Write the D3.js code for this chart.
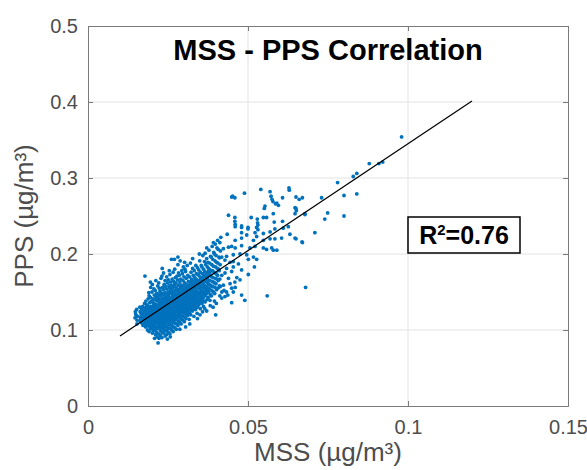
<!DOCTYPE html>
<html>
<head>
<meta charset="utf-8">
<script src="https://cdn.jsdelivr.net/npm/d3@7"></script>
<style>
  body { margin: 0; background: #fff; }
  svg text { font-family: "Liberation Sans", Arial, sans-serif; }
</style>
</head>
<body>
<div id="chart"></div>
<script>
// axis ticks
var xTicks = [0, 0.05, 0.1, 0.15];
var yTicks = [0, 0.1, 0.2, 0.3, 0.4, 0.5];
var xTickLabels = ["0", "0.05", "0.1", "0.15"];
var yTickLabels = ["0", "0.1", "0.2", "0.3", "0.4", "0.5"];

// linear fit shown on the plot
var fitSlope = 2.81;
var fitIntercept = 0.064;
var fitRange = [0.01, 0.12];
var rSquared = "0.76";

// [MSS, PPS] samples
var samples = [
  [0.0147,0.116],[0.0149,0.121],[0.0151,0.119],[0.0148,0.124],[0.0153,0.113],[0.0152,0.127],[0.0155,0.118],
  [0.0162,0.112],[0.0164,0.117],[0.0166,0.121],[0.0163,0.124],[0.0167,0.128],[0.0165,0.115],[0.0168,0.110],
  [0.0169,0.109],[0.0171,0.114],[0.0172,0.118],[0.0170,0.122],[0.0173,0.126],[0.0171,0.131],[0.0174,0.120],[0.0172,0.106],
  [0.0176,0.108],[0.0175,0.113],[0.0177,0.117],[0.0178,0.121],[0.0176,0.125],[0.0179,0.129],[0.0177,0.135],[0.0178,0.111],[0.0175,0.119],
  [0.0180,0.104],[0.0182,0.110],[0.0181,0.115],[0.0183,0.119],[0.0180,0.123],[0.0182,0.127],[0.0184,0.132],[0.0181,0.138],[0.0178,0.171],[0.0183,0.112],[0.0184,0.121],
  [0.0186,0.100],[0.0185,0.107],[0.0187,0.112],[0.0188,0.116],[0.0186,0.120],[0.0189,0.124],[0.0187,0.128],[0.0185,0.133],[0.0188,0.141],[0.0189,0.118],[0.0186,0.126],
  [0.0191,0.098],[0.0190,0.105],[0.0192,0.109],[0.0193,0.114],[0.0191,0.118],[0.0194,0.122],[0.0192,0.126],[0.0190,0.130],[0.0193,0.136],[0.0191,0.145],[0.0194,0.111],[0.0192,0.120],[0.0190,0.149],
  [0.0196,0.102],[0.0197,0.107],[0.0195,0.111],[0.0198,0.115],[0.0196,0.119],[0.0199,0.123],[0.0197,0.127],[0.0196,0.131],[0.0198,0.138],[0.0195,0.143],[0.0199,0.113],[0.0197,0.125],[0.0196,0.156],
  [0.0201,0.096],[0.0203,0.100],[0.0200,0.104],[0.0202,0.108],[0.0204,0.112],[0.0201,0.116],[0.0203,0.120],[0.0200,0.124],[0.0202,0.128],[0.0204,0.132],[0.0201,0.137],[0.0203,0.141],[0.0200,0.150],[0.0202,0.118],[0.0204,0.126],[0.0201,0.160],
  [0.0206,0.099],[0.0207,0.103],[0.0205,0.107],[0.0208,0.111],[0.0206,0.115],[0.0209,0.119],[0.0207,0.123],[0.0205,0.127],[0.0208,0.131],[0.0206,0.135],[0.0209,0.140],[0.0207,0.146],[0.0205,0.121],[0.0208,0.129],[0.0206,0.154],
  [0.0211,0.094],[0.0212,0.101],[0.0210,0.106],[0.0213,0.110],[0.0211,0.114],[0.0214,0.118],[0.0212,0.122],[0.0210,0.126],[0.0213,0.130],[0.0211,0.134],[0.0214,0.139],[0.0212,0.144],[0.0210,0.152],[0.0213,0.116],[0.0211,0.124],[0.0212,0.165],
  [0.0216,0.091],[0.0215,0.097],[0.0217,0.104],[0.0218,0.109],[0.0216,0.113],[0.0219,0.117],[0.0217,0.121],[0.0215,0.125],[0.0218,0.129],[0.0216,0.133],[0.0219,0.138],[0.0217,0.143],[0.0215,0.148],[0.0218,0.158],[0.0216,0.119],[0.0219,0.127],
  [0.0219,0.083],[0.0222,0.089],[0.0221,0.095],[0.0220,0.102],[0.0223,0.107],[0.0221,0.111],[0.0224,0.115],[0.0222,0.119],[0.0220,0.123],[0.0223,0.127],[0.0221,0.131],[0.0224,0.136],[0.0222,0.141],[0.0220,0.147],[0.0223,0.155],[0.0221,0.162],[0.0224,0.121],[0.0222,0.129],
  [0.0226,0.093],[0.0227,0.099],[0.0225,0.105],[0.0228,0.110],[0.0226,0.114],[0.0229,0.118],[0.0227,0.122],[0.0225,0.126],[0.0228,0.130],[0.0226,0.134],[0.0229,0.139],[0.0227,0.145],[0.0225,0.151],[0.0228,0.168],[0.0226,0.124],[0.0229,0.132],
  [0.0231,0.090],[0.0232,0.097],[0.0230,0.103],[0.0233,0.108],[0.0231,0.112],[0.0234,0.116],[0.0232,0.120],[0.0230,0.124],[0.0233,0.128],[0.0231,0.132],[0.0234,0.137],[0.0232,0.142],[0.0230,0.148],[0.0233,0.156],[0.0231,0.171],[0.0234,0.126],[0.0232,0.134],
  [0.0236,0.096],[0.0237,0.101],[0.0235,0.106],[0.0238,0.110],[0.0236,0.114],[0.0239,0.118],[0.0237,0.122],[0.0235,0.126],[0.0238,0.130],[0.0236,0.135],[0.0239,0.140],[0.0237,0.146],[0.0235,0.153],[0.0238,0.160],[0.0236,0.175],[0.0239,0.128],[0.0237,0.137],
  [0.0241,0.092],[0.0242,0.099],[0.0240,0.104],[0.0243,0.109],[0.0241,0.113],[0.0244,0.117],[0.0242,0.121],[0.0240,0.125],[0.0243,0.129],[0.0241,0.133],[0.0244,0.138],[0.0242,0.143],[0.0240,0.149],[0.0243,0.157],[0.0241,0.165],[0.0244,0.131],[0.0242,0.140],
  [0.0246,0.094],[0.0248,0.088],[0.0247,0.100],[0.0245,0.105],[0.0248,0.111],[0.0246,0.115],[0.0249,0.119],[0.0247,0.123],[0.0245,0.127],[0.0248,0.131],[0.0246,0.136],[0.0249,0.141],[0.0247,0.147],[0.0245,0.154],[0.0248,0.162],[0.0246,0.170],[0.0249,0.133],[0.0247,0.144],
  [0.0251,0.097],[0.0250,0.103],[0.0253,0.108],[0.0251,0.113],[0.0254,0.117],[0.0252,0.121],[0.0250,0.125],[0.0253,0.129],[0.0251,0.134],[0.0254,0.139],[0.0252,0.144],[0.0250,0.150],[0.0253,0.158],[0.0251,0.166],[0.0254,0.178],[0.0252,0.136],[0.0250,0.146],
  [0.0256,0.095],[0.0257,0.102],[0.0255,0.107],[0.0258,0.112],[0.0256,0.116],[0.0259,0.120],[0.0257,0.124],[0.0255,0.128],[0.0258,0.132],[0.0256,0.137],[0.0259,0.142],[0.0257,0.148],[0.0255,0.155],[0.0258,0.163],[0.0256,0.173],[0.0259,0.139],[0.0257,0.151],
  [0.0261,0.100],[0.0262,0.106],[0.0260,0.111],[0.0263,0.115],[0.0261,0.119],[0.0264,0.123],[0.0262,0.127],[0.0260,0.131],[0.0263,0.135],[0.0261,0.140],[0.0264,0.145],[0.0262,0.151],[0.0260,0.159],[0.0263,0.167],[0.0261,0.193],[0.0264,0.142],[0.0262,0.154],
  [0.0266,0.098],[0.0267,0.104],[0.0265,0.110],[0.0268,0.114],[0.0266,0.118],[0.0269,0.122],[0.0267,0.126],[0.0265,0.130],[0.0268,0.134],[0.0266,0.138],[0.0269,0.143],[0.0267,0.149],[0.0265,0.156],[0.0268,0.164],[0.0266,0.176],[0.0270,0.193],[0.0269,0.145],
  [0.0271,0.103],[0.0272,0.109],[0.0270,0.113],[0.0273,0.117],[0.0271,0.121],[0.0274,0.125],[0.0272,0.129],[0.0270,0.133],[0.0273,0.137],[0.0271,0.141],[0.0274,0.146],[0.0272,0.152],[0.0270,0.160],[0.0273,0.169],[0.0271,0.180],[0.0274,0.148],[0.0272,0.157],
  [0.0276,0.101],[0.0277,0.108],[0.0275,0.114],[0.0278,0.119],[0.0276,0.124],[0.0279,0.128],[0.0277,0.132],[0.0275,0.136],[0.0278,0.140],[0.0276,0.144],[0.0279,0.149],[0.0277,0.155],[0.0275,0.162],[0.0278,0.171],[0.0276,0.151],
  [0.0281,0.106],[0.0282,0.112],[0.0280,0.117],[0.0283,0.122],[0.0281,0.126],[0.0284,0.130],[0.0282,0.134],[0.0280,0.138],[0.0283,0.142],[0.0281,0.147],[0.0284,0.153],[0.0282,0.159],[0.0280,0.166],[0.0283,0.175],[0.0281,0.186],[0.0284,0.150],
  [0.0286,0.110],[0.0287,0.116],[0.0285,0.121],[0.0288,0.125],[0.0286,0.129],[0.0289,0.133],[0.0287,0.137],[0.0285,0.141],[0.0288,0.145],[0.0286,0.150],[0.0289,0.156],[0.0287,0.163],[0.0285,0.172],[0.0288,0.191],[0.0286,0.139],
  [0.0291,0.108],[0.0292,0.114],[0.0290,0.119],[0.0293,0.124],[0.0291,0.128],[0.0294,0.132],[0.0292,0.136],[0.0290,0.140],[0.0293,0.144],[0.0291,0.148],[0.0294,0.153],[0.0292,0.159],[0.0290,0.167],[0.0293,0.178],[0.0291,0.146],
  [0.0296,0.113],[0.0297,0.118],[0.0295,0.123],[0.0298,0.127],[0.0296,0.131],[0.0299,0.135],[0.0297,0.139],[0.0295,0.143],[0.0298,0.147],[0.0296,0.152],[0.0299,0.158],[0.0297,0.165],[0.0295,0.174],[0.0298,0.183],[0.0296,0.155],
  [0.0301,0.111],[0.0302,0.117],[0.0300,0.122],[0.0303,0.126],[0.0301,0.130],[0.0304,0.134],[0.0302,0.138],[0.0300,0.142],[0.0303,0.146],[0.0301,0.151],[0.0304,0.156],[0.0302,0.162],[0.0300,0.170],[0.0303,0.180],[0.0301,0.148],
  [0.0306,0.115],[0.0307,0.121],[0.0305,0.125],[0.0308,0.129],[0.0306,0.133],[0.0309,0.137],[0.0307,0.141],[0.0305,0.145],[0.0308,0.149],[0.0306,0.154],[0.0309,0.160],[0.0307,0.168],[0.0305,0.177],[0.0308,0.151],
  [0.0311,0.119],[0.0312,0.124],[0.0310,0.128],[0.0313,0.132],[0.0311,0.136],[0.0314,0.140],[0.0312,0.144],[0.0310,0.148],[0.0313,0.153],[0.0311,0.158],[0.0314,0.164],[0.0312,0.172],[0.0310,0.185],[0.0313,0.155],
  [0.0316,0.114],[0.0317,0.122],[0.0315,0.127],[0.0318,0.131],[0.0316,0.135],[0.0319,0.139],[0.0317,0.143],[0.0315,0.147],[0.0318,0.152],[0.0316,0.157],[0.0319,0.163],[0.0317,0.170],[0.0315,0.158],
  [0.0321,0.120],[0.0322,0.126],[0.0320,0.130],[0.0323,0.134],[0.0321,0.138],[0.0324,0.142],[0.0322,0.146],[0.0320,0.150],[0.0323,0.155],[0.0321,0.161],[0.0324,0.167],[0.0322,0.176],[0.0320,0.188],[0.0323,0.153],
  [0.0326,0.125],[0.0327,0.129],[0.0325,0.133],[0.0328,0.137],[0.0326,0.141],[0.0329,0.145],[0.0327,0.149],[0.0325,0.154],[0.0328,0.159],[0.0326,0.165],[0.0329,0.172],[0.0327,0.181],[0.0325,0.157],
  [0.0331,0.118],[0.0332,0.128],[0.0330,0.132],[0.0333,0.136],[0.0331,0.140],[0.0334,0.144],[0.0332,0.148],[0.0330,0.152],[0.0333,0.157],[0.0331,0.163],[0.0334,0.169],[0.0332,0.178],[0.0330,0.160],
  [0.0336,0.127],[0.0337,0.131],[0.0335,0.135],[0.0338,0.139],[0.0336,0.143],[0.0339,0.147],[0.0337,0.151],[0.0335,0.156],[0.0338,0.161],[0.0336,0.167],[0.0339,0.174],[0.0337,0.185],[0.0335,0.163],
  [0.0341,0.122],[0.0342,0.130],[0.0340,0.134],[0.0343,0.138],[0.0341,0.142],[0.0344,0.146],[0.0342,0.150],[0.0340,0.155],[0.0343,0.160],[0.0341,0.166],[0.0344,0.173],[0.0342,0.182],[0.0340,0.165],
  [0.0346,0.133],[0.0347,0.137],[0.0345,0.141],[0.0348,0.145],[0.0346,0.149],[0.0349,0.154],[0.0347,0.158],[0.0345,0.164],[0.0348,0.171],[0.0346,0.179],[0.0349,0.191],[0.0347,0.160],
  [0.0351,0.128],[0.0352,0.136],[0.0350,0.140],[0.0353,0.144],[0.0351,0.148],[0.0354,0.152],[0.0352,0.157],[0.0350,0.162],[0.0353,0.168],[0.0351,0.176],[0.0354,0.185],[0.0352,0.166],[0.0350,0.120],
  [0.0356,0.135],[0.0357,0.139],[0.0355,0.143],[0.0358,0.147],[0.0356,0.151],[0.0359,0.156],[0.0357,0.161],[0.0355,0.167],[0.0358,0.174],[0.0356,0.183],[0.0359,0.198],[0.0357,0.169],
  [0.0361,0.131],[0.0362,0.138],[0.0360,0.142],[0.0363,0.146],[0.0361,0.150],[0.0364,0.155],[0.0362,0.160],[0.0360,0.166],[0.0363,0.172],[0.0361,0.180],[0.0364,0.190],[0.0362,0.163],
  [0.0366,0.137],[0.0367,0.145],[0.0365,0.149],[0.0368,0.153],[0.0366,0.158],[0.0369,0.164],[0.0367,0.170],[0.0365,0.177],[0.0368,0.186],[0.0366,0.201],
  [0.0371,0.125],[0.0372,0.140],[0.0370,0.148],[0.0373,0.152],[0.0371,0.157],[0.0374,0.162],[0.0372,0.168],[0.0370,0.175],[0.0373,0.183],[0.0371,0.194],[0.0374,0.171],
  [0.0376,0.143],[0.0377,0.150],[0.0375,0.155],[0.0378,0.160],[0.0376,0.166],[0.0379,0.173],[0.0377,0.181],[0.0375,0.189],[0.0378,0.205],[0.0376,0.177],
  [0.0381,0.139],[0.0382,0.147],[0.0380,0.154],[0.0383,0.159],[0.0381,0.165],[0.0384,0.171],[0.0382,0.179],[0.0380,0.188],[0.0383,0.197],[0.0381,0.175],
  [0.0386,0.145],[0.0387,0.152],[0.0385,0.158],[0.0388,0.164],[0.0386,0.170],[0.0389,0.178],[0.0387,0.186],[0.0385,0.196],[0.0388,0.210],
  [0.0391,0.130],[0.0392,0.150],[0.0390,0.157],[0.0393,0.163],[0.0391,0.169],[0.0394,0.176],[0.0392,0.184],[0.0390,0.193],[0.0393,0.202],
  [0.0396,0.148],[0.0397,0.156],[0.0395,0.162],[0.0398,0.168],[0.0396,0.175],[0.0399,0.183],[0.0397,0.191],[0.0395,0.200],[0.0398,0.213],
  [0.0399,0.120],[0.0401,0.135],[0.0402,0.153],[0.0400,0.161],[0.0403,0.167],[0.0401,0.174],[0.0404,0.181],[0.0402,0.189],[0.0400,0.198],[0.0403,0.208],
  [0.0406,0.155],[0.0407,0.165],[0.0405,0.172],[0.0408,0.180],[0.0406,0.188],[0.0409,0.196],[0.0407,0.206],[0.0405,0.218],
  [0.0411,0.158],[0.0412,0.167],[0.0410,0.178],[0.0413,0.186],[0.0411,0.195],[0.0414,0.204],[0.0412,0.215],
  [0.0418,0.196],[0.0428,0.192],[0.0444,0.189],[0.0454,0.190],[0.0470,0.187],[0.0520,0.183],[0.0433,0.181],[0.0454,0.183],
  [0.0449,0.177],[0.0480,0.179],[0.0428,0.175],[0.0418,0.172],[0.0501,0.173],[0.0439,0.168],[0.0465,0.169],[0.0475,0.166],
  [0.0444,0.161],[0.0459,0.163],[0.0423,0.159],[0.0413,0.157],[0.0433,0.150],[0.0449,0.155],[0.0460,0.156],[0.0454,0.150],
  [0.0418,0.150],[0.0480,0.146],[0.0490,0.139],[0.0449,0.136],[0.0428,0.144],[0.0418,0.142],[0.0560,0.145],[0.0680,0.156],
  [0.0423,0.207],[0.0439,0.209],[0.0449,0.210],[0.0460,0.208],[0.0480,0.211],[0.0506,0.208],[0.0522,0.210],[0.0548,0.208],
  [0.0558,0.206],[0.0574,0.208],[0.0579,0.205],[0.0590,0.205],
  [0.0433,0.197],[0.0454,0.199],[0.0475,0.200],[0.0496,0.199],[0.0517,0.196],[0.0527,0.193],[0.0501,0.193],
  [0.0460,0.218],[0.0480,0.221],[0.0517,0.218],[0.0548,0.218],[0.0569,0.220],[0.0584,0.220],[0.0605,0.221],
  [0.0460,0.236],[0.0480,0.235],[0.0500,0.233],[0.0527,0.235],[0.0531,0.232],[0.0480,0.228],[0.0496,0.225],[0.0522,0.228],
  [0.0527,0.223],[0.0548,0.227],[0.0569,0.229],[0.0584,0.233],[0.0610,0.234],[0.0626,0.236],[0.0631,0.226],[0.0650,0.220],[0.0669,0.216],
  [0.0449,0.275],[0.0459,0.274],[0.0452,0.276],[0.0489,0.280],[0.0540,0.285],[0.0569,0.282],[0.0575,0.272],[0.0572,0.276],
  [0.0578,0.269],[0.0628,0.287],[0.0629,0.284],[0.0608,0.274],[0.0650,0.275],[0.0670,0.274],[0.0660,0.272],[0.0590,0.267],
  [0.0595,0.264],[0.0586,0.266],[0.0553,0.263],[0.0551,0.260],[0.0650,0.260],[0.0651,0.257],[0.0439,0.251],[0.0459,0.248],
  [0.0459,0.243],[0.0460,0.239],[0.0480,0.237],[0.0510,0.248],[0.0529,0.246],[0.0530,0.241],[0.0531,0.238],[0.0548,0.248],
  [0.0558,0.248],[0.0579,0.253],[0.0582,0.242],[0.0608,0.243],[0.0678,0.253],[0.0500,0.235],[0.0647,0.261],[0.0647,0.253],[0.0678,0.252],
  [0.0709,0.228],[0.0647,0.221],[0.0670,0.215],[0.0730,0.274],[0.0749,0.254],[0.0740,0.246],[0.0800,0.250],[0.0780,0.294],
  [0.0800,0.277],[0.0840,0.279],[0.0829,0.302],[0.0840,0.306],[0.0879,0.319],[0.0909,0.319],[0.0921,0.321],[0.0980,0.354],
  [0.0365,0.128],[0.0382,0.132],[0.0395,0.138],[0.0412,0.145],[0.0425,0.152],[0.0437,0.146],[0.0305,0.104],[0.0318,0.108],
  [0.0287,0.101],[0.0342,0.115],[0.0358,0.124],[0.0195,0.163],[0.0232,0.181],[0.0281,0.196],[0.0302,0.189],[0.0327,0.194],
  [0.0348,0.200],[0.0371,0.208],[0.0392,0.215],[0.0415,0.222],[0.0435,0.226],[0.0208,0.089],[0.0257,0.091],[0.0162,0.130],[0.0153,0.108]
];

var width = 587, height = 470;
var margin = {top: 26, right: 19, bottom: 64, left: 88};

var svg = d3.select("#chart").append("svg")
  .attr("width", width)
  .attr("height", height);

var x = d3.scaleLinear().domain([0, 0.15]).range([margin.left, width - margin.right]);
var y = d3.scaleLinear().domain([0, 0.5]).range([height - margin.bottom, margin.top]);

var axisColor = "#7a7a7a";
var textColor = "#4d4d4d";

// grid
svg.append("g").selectAll("line.vgrid")
  .data(xTicks.slice(1, -1))
  .enter().append("line")
  .attr("x1", d => x(d)).attr("x2", d => x(d))
  .attr("y1", y(0)).attr("y2", y(0.5))
  .attr("stroke", "#e3e3e3").attr("stroke-width", 1);

svg.append("g").selectAll("line.hgrid")
  .data(yTicks.slice(1, -1))
  .enter().append("line")
  .attr("x1", x(0)).attr("x2", x(0.15))
  .attr("y1", d => y(d)).attr("y2", d => y(d))
  .attr("stroke", "#e3e3e3").attr("stroke-width", 1);

// scatter
svg.append("g").selectAll("circle")
  .data(samples)
  .enter().append("circle")
  .attr("cx", d => x(d[0]))
  .attr("cy", d => y(d[1]))
  .attr("r", 1.9)
  .attr("fill", "#0072bd");

// fit line
svg.append("line")
  .attr("x1", x(fitRange[0])).attr("y1", y(fitIntercept + fitSlope * fitRange[0]))
  .attr("x2", x(fitRange[1])).attr("y2", y(fitIntercept + fitSlope * fitRange[1]))
  .attr("stroke", "#000").attr("stroke-width", 1.2);

// axes (ticks inside, box all round)
var bottomAxis = d3.axisBottom(x).tickValues(xTicks).tickSize(-5).tickFormat((d, i) => xTickLabels[i]).tickPadding(14);
var leftAxis = d3.axisLeft(y).tickValues(yTicks).tickSize(-5).tickFormat((d, i) => yTickLabels[i]).tickPadding(10);
var topAxis = d3.axisTop(x).tickValues(xTicks).tickSize(-5).tickFormat("");
var rightAxis = d3.axisRight(y).tickValues(yTicks).tickSize(-5).tickFormat("");

function styleAxis(g) {
  g.select(".domain").attr("stroke", axisColor);
  g.selectAll(".tick line").attr("stroke", axisColor);
  g.selectAll(".tick text").attr("fill", textColor).style("font-size", "20px");
}

svg.append("g").attr("transform", "translate(0," + y(0) + ")").call(bottomAxis).call(styleAxis);
svg.append("g").attr("transform", "translate(" + x(0) + ",0)").call(leftAxis).call(styleAxis);
svg.append("g").attr("transform", "translate(0," + y(0.5) + ")").call(topAxis).call(styleAxis);
svg.append("g").attr("transform", "translate(" + x(0.15) + ",0)").call(rightAxis).call(styleAxis);

// title
svg.append("text")
  .attr("x", (x(0) + x(0.15)) / 2)
  .attr("y", 60)
  .attr("text-anchor", "middle")
  .style("font-size", "29px")
  .style("font-weight", "bold")
  .attr("fill", "#000")
  .text("MSS - PPS Correlation");

// axis labels
svg.append("text")
  .attr("x", (x(0) + x(0.15)) / 2)
  .attr("y", 461)
  .attr("text-anchor", "middle")
  .style("font-size", "26px")
  .attr("fill", textColor)
  .text("MSS (µg/m³)");

svg.append("text")
  .attr("transform", "translate(33," + (y(0) + y(0.5)) / 2 + ") rotate(-90)")
  .attr("text-anchor", "middle")
  .style("font-size", "26px")
  .attr("fill", textColor)
  .text("PPS (µg/m³)");

// R² box
var box = svg.append("g").attr("transform", "translate(" + x(0.1) + ",217)");
box.append("rect")
  .attr("width", 112).attr("height", 36)
  .attr("fill", "#fff").attr("stroke", "#000").attr("stroke-width", 1.5);
var rText = box.append("text")
  .attr("x", 56).attr("y", 27)
  .attr("text-anchor", "middle")
  .style("font-size", "25px")
  .style("font-weight", "bold")
  .attr("fill", "#000");
rText.append("tspan").text("R");
rText.append("tspan").attr("dy", -9).style("font-size", "15px").text("2");
rText.append("tspan").attr("dy", 9).text("=" + rSquared);
</script>
</body>
</html>
